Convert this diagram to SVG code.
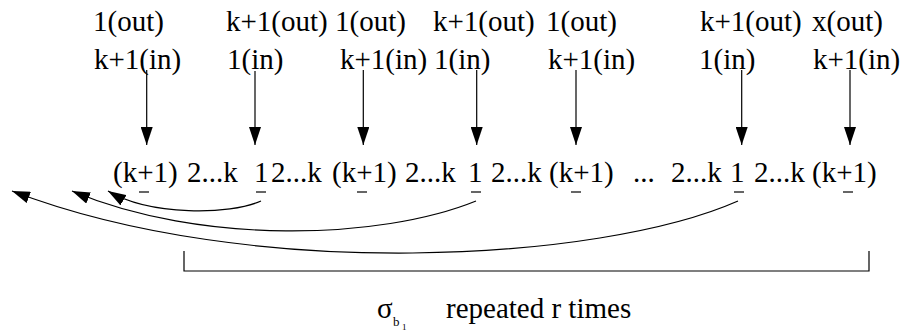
<svg xmlns="http://www.w3.org/2000/svg" width="905" height="331" viewBox="0 0 905 331" font-family="Liberation Serif, Times New Roman, serif" font-size="29">
<style>
.ln{stroke:#000;stroke-width:1.2;fill:none}
.ul{stroke:#000;stroke-width:1.2}
</style>
<defs>
<marker id="ah" markerUnits="userSpaceOnUse" markerWidth="19" markerHeight="12" refX="18" refY="6" orient="auto" viewBox="0 0 19 12">
<path d="M0,0 L18,6 L0,12 z" fill="#000"/>
</marker>
</defs>
<g id="labels-out">
<text x="93" y="31">1(out)</text>
<text x="226" y="31">k+1(out)</text>
<text x="335" y="31">1(out)</text>
<text x="433" y="31">k+1(out)</text>
<text x="546" y="31">1(out)</text>
<text x="700" y="31">k+1(out)</text>
<text x="812" y="31">x(out)</text>
</g>
<g id="labels-in">
<text x="94" y="69">k+1(in)</text>
<text x="227" y="69">1(in)</text>
<text x="340" y="69">k+1(in)</text>
<text x="434" y="69">1(in)</text>
<text x="548" y="69">k+1(in)</text>
<text x="699" y="69">1(in)</text>
<text x="813" y="69">k+1(in)</text>
</g>
<g id="sequence">
<text x="113" y="182">(k+1)</text>
<text x="187" y="182">2...k</text>
<text x="254" y="182">1</text>
<text x="271" y="182">2...k</text>
<text x="332" y="182">(k+1)</text>
<text x="405" y="182">2...k</text>
<text x="468" y="182">1</text>
<text x="491" y="182">2...k</text>
<text x="549" y="182">(k+1)</text>
<text x="633" y="182">...</text>
<text x="671" y="182">2...k</text>
<text x="730" y="182">1</text>
<text x="754" y="182">2...k</text>
<text x="812" y="182">(k+1)</text>
<line class="ul" x1="139" y1="192" x2="149" y2="192"/>
<line class="ul" x1="256" y1="192" x2="266" y2="192"/>
<line class="ul" x1="357" y1="192" x2="367" y2="192"/>
<line class="ul" x1="471" y1="192" x2="481" y2="192"/>
<line class="ul" x1="571" y1="192" x2="581" y2="192"/>
<line class="ul" x1="734" y1="192" x2="744" y2="192"/>
<line class="ul" x1="843" y1="192" x2="853" y2="192"/>
</g>
<g id="connectors">
<line class="ln" x1="146.7" y1="70" x2="146.7" y2="145" marker-end="url(#ah)"/>
<line class="ln" x1="255" y1="71" x2="255" y2="145" marker-end="url(#ah)"/>
<line class="ln" x1="363.3" y1="70" x2="363.3" y2="145" marker-end="url(#ah)"/>
<line class="ln" x1="476.7" y1="70" x2="476.7" y2="145" marker-end="url(#ah)"/>
<line class="ln" x1="576" y1="70" x2="576" y2="145" marker-end="url(#ah)"/>
<line class="ln" x1="741.7" y1="70" x2="741.7" y2="145" marker-end="url(#ah)"/>
<line class="ln" x1="850" y1="70" x2="850" y2="145" marker-end="url(#ah)"/>
<path class="ln" d="M261,201 C230,215 150,216 108,191" marker-end="url(#ah)"/>
<path class="ln" d="M476,201 C380,240 200,245 72,191" marker-end="url(#ah)"/>
<path class="ln" d="M738,201 C600,262 250,282 12,191" marker-end="url(#ah)"/>
</g>
<g id="bracket">
<path class="ln" d="M184,251 V271 H869 V251"/>
</g>
<g id="caption">
<text x="377" y="318">σ</text>
<text x="393" y="326" font-size="13">b</text>
<text x="402" y="330" font-size="9">1</text>
<text x="446" y="318">repeated r times</text>
</g>
</svg>
